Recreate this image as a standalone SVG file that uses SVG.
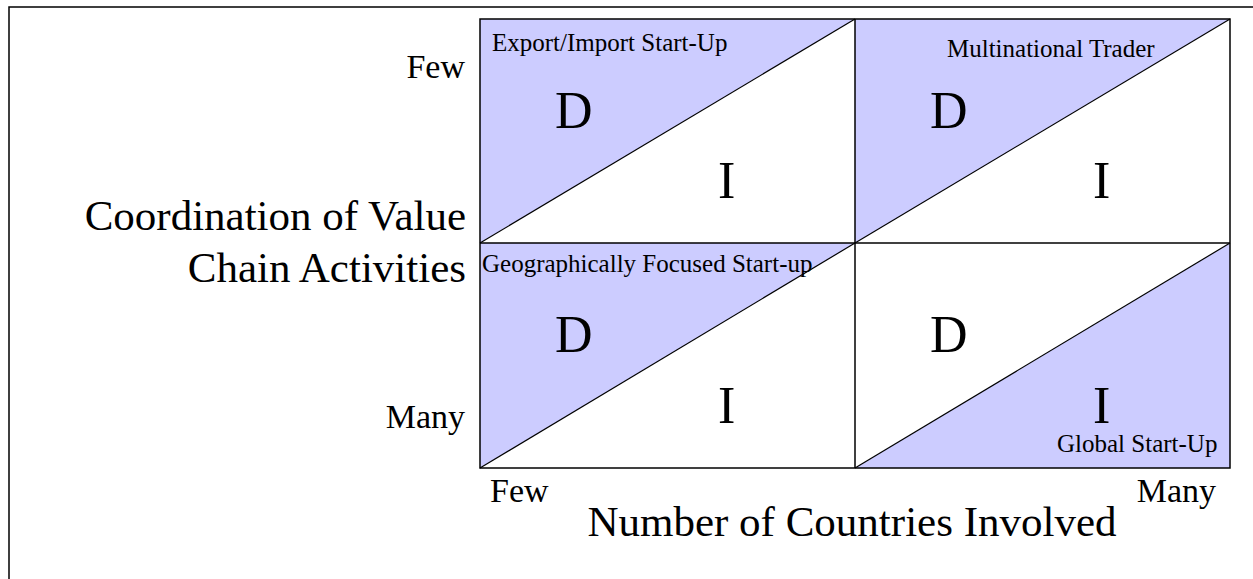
<svg xmlns="http://www.w3.org/2000/svg" width="1253" height="579" viewBox="0 0 1253 579">
<style>
text{font-family:"Liberation Serif","Times New Roman",serif;fill:#000}
.shade{fill:#CCCCFF;stroke:none}
.cell{fill:none;stroke:#000;stroke-width:1.5}
.diag{stroke:#000;stroke-width:1.2;fill:none}
.big{font-size:52px}
.lab{font-size:25px}
.ax{font-size:34px}
.title{font-size:43px}
</style>
<rect x="0" y="0" width="1253" height="579" fill="#fff"/>
<rect x="9" y="7" width="1300" height="700" fill="none" stroke="#000" stroke-width="1.5"/>
<g id="cell-export-import">
<rect x="480" y="19" width="375" height="224" fill="#fff"/>
<polygon class="shade" points="480,19 855,19 480,243"/>
<text class="lab" x="492" y="51">Export/Import Start-Up</text>
<text class="big" x="555" y="128">D</text>
<text class="big" x="718" y="198">I</text>
</g>
<g id="cell-multinational">
<rect x="855" y="19" width="375" height="224" fill="#fff"/>
<polygon class="shade" points="855,19 1230,19 855,243"/>
<text class="lab" x="947" y="57">Multinational Trader</text>
<text class="big" x="930" y="128">D</text>
<text class="big" x="1093" y="198">I</text>
</g>
<g id="cell-geo">
<rect x="480" y="243" width="375" height="225" fill="#fff"/>
<polygon class="shade" points="480,243 855,243 480,468"/>
<text class="lab" x="482" y="272">Geographically Focused Start-up</text>
<text class="big" x="555" y="352">D</text>
<text class="big" x="718" y="423">I</text>
</g>
<g id="cell-global">
<rect x="855" y="243" width="375" height="225" fill="#fff"/>
<polygon class="shade" points="1230,243 1230,468 855,468"/>
<text class="big" x="930" y="352">D</text>
<text class="big" x="1093" y="423">I</text>
<text class="lab" x="1057" y="452">Global Start-Up</text>
</g>
<g id="connectors">
<line class="diag" x1="480" y1="243" x2="855" y2="19"/>
<line class="diag" x1="855" y1="243" x2="1230" y2="19"/>
<line class="diag" x1="480" y1="468" x2="855" y2="243"/>
<line class="diag" x1="855" y1="468" x2="1230" y2="243"/>
<rect class="cell" x="480" y="19" width="750" height="449"/>
<line class="cell" x1="855" y1="19" x2="855" y2="468"/>
<line class="cell" x1="480" y1="243" x2="1230" y2="243"/>
</g>
<g id="axis-y">
<text class="ax" x="465" y="78" text-anchor="end">Few</text>
<text class="title" x="466" y="230" text-anchor="end">Coordination of Value</text>
<text class="title" x="466" y="282" text-anchor="end">Chain Activities</text>
<text class="ax" x="465" y="428" text-anchor="end">Many</text>
</g>
<g id="axis-x">
<text class="ax" x="490" y="502">Few</text>
<text class="ax" x="1216" y="502" text-anchor="end">Many</text>
<text class="title" x="852" y="536" text-anchor="middle">Number of Countries Involved</text>
</g>
</svg>
